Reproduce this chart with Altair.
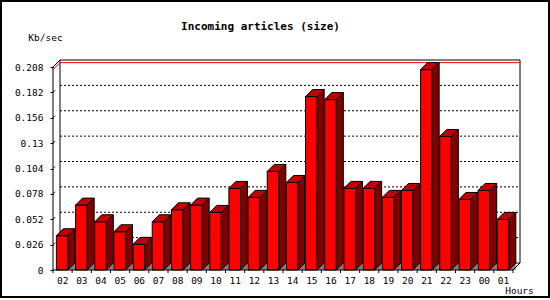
import altair as alt
import pandas as pd

# ---------------- data ----------------
hours = ["02", "03", "04", "05", "06", "07", "08", "09", "10", "11", "12", "13",
         "14", "15", "16", "17", "18", "19", "20", "21", "22", "23", "00", "01"]
kbps = [0.0351, 0.0665, 0.0494, 0.0392, 0.0263, 0.0494, 0.0617, 0.0665,
        0.0590, 0.0836, 0.0744, 0.1010, 0.0897, 0.1777, 0.1746, 0.0836,
        0.0836, 0.0744, 0.0815, 0.2053, 0.1368, 0.0723, 0.0815, 0.0518]
y_ticks = [0, 0.026, 0.052, 0.078, 0.104, 0.13, 0.156, 0.182, 0.208]
y_top = 0.208
title_text = "Incoming articles (size)"

# ---------------- geometry (3D box) ----------------
W, H = 467, 210
DEPTH = 7                      # px of 3D depth
n = len(hours)
band = (W - DEPTH) / n         # px per hour slot
ppu = (H - DEPTH) / y_top      # px per Kb/sec
dxi = DEPTH / band             # depth in x data units
dyv = DEPTH / ppu              # depth in y data units
XMAX = W / band
YMAX = H / ppu
a = 3.4 / band                 # gap before front face
w = 11.6 / band                # front face width
vmax = max(kbps)

FONT = "DejaVu Sans Mono"

xs = alt.Scale(domain=[0, XMAX], nice=False, zero=False)
ys = alt.Scale(domain=[0, YMAX], nice=False, zero=False)

hours_js = "[" + ",".join("'" + h + "'" for h in hours) + "]"
xaxis = alt.Axis(values=[i + a + w / 2 for i in range(n)],
                 labelExpr=hours_js + "[floor(datum.value)]",
                 ticks=False, tickSize=0, domain=False, grid=False,
                 labelPadding=10, labelBaseline="middle", labelAngle=0,
                 labelFlush=False, labelOverlap=False,
                 labelFont=FONT, labelFontSize=9.5, labelColor="black",
                 title="Hours", titleFont=FONT, titleFontSize=9.5,
                 titleFontWeight="normal", titleColor="black",
                 titleX=466, titleY=20, titleAlign="center",
                 titleBaseline="middle")
yaxis = alt.Axis(values=y_ticks, format=".3~g", tickSize=3, tickColor="black",
                 domain=False, grid=False, labelPadding=7,
                 labelFlush=False, labelOverlap=False,
                 labelFont=FONT, labelFontSize=9.5, labelColor="black",
                 title="Kb/sec", titleFont=FONT, titleFontSize=9.5,
                 titleFontWeight="normal", titleColor="black", titleAngle=0,
                 titleX=-8, titleY=-23, titleAlign="center",
                 titleBaseline="middle")


def X(f):
    return alt.X(f, type="quantitative", scale=xs, axis=xaxis)


def Y(f):
    return alt.Y(f, type="quantitative", scale=ys, axis=yaxis)


# ---------------- tables ----------------
wall = pd.DataFrame([{"x0": dxi, "x1": XMAX, "y0": dyv, "y1": YMAX}])

grid = pd.DataFrame([{"x0": dxi, "x1": XMAX, "y0": v + dyv, "y1": v + dyv}
                     for v in y_ticks[1:-1]])

red = pd.DataFrame([
    {"x0": dxi, "x1": XMAX, "y0": vmax + dyv, "y1": vmax + dyv},
    {"x0": 0, "x1": dxi, "y0": vmax, "y1": vmax + dyv},
])

front = pd.DataFrame([{"hour": h, "x0": i + a, "x1": i + a + w, "y0": 0, "y1": v}
                      for i, (h, v) in enumerate(zip(hours, kbps))])

side_rows, top_rows, floor_rows = [], [], []
for i, (h, v) in enumerate(zip(hours, kbps)):
    xr = i + a + w
    side_rows.append({"hour": h, "x": xr, "yt": v, "yb": 0})
    side_rows.append({"hour": h, "x": xr + dxi, "yt": v + dyv, "yb": dyv})
    top_rows.append({"hour": h, "y": v, "xl": i + a, "xr": xr})
    top_rows.append({"hour": h, "y": v + dyv, "xl": i + a + dxi, "xr": xr + dxi})
    floor_rows.append({"hour": h, "x": xr, "yt": 0, "yb": 0})
    floor_rows.append({"hour": h, "x": xr + dxi, "yt": dyv, "yb": 0})
side = pd.DataFrame(side_rows)
top = pd.DataFrame(top_rows)
floor = pd.DataFrame(floor_rows)

segs = [
    {"x0": 0, "x1": 0, "y0": 0, "y1": y_top},                 # front y axis
    {"x0": 0, "x1": n, "y0": 0, "y1": 0},                     # front x axis
    {"x0": 0, "x1": dxi, "y0": y_top, "y1": y_top + dyv},     # top-left edge
    {"x0": n, "x1": XMAX, "y0": 0, "y1": dyv},                # bottom-right edge
]
tick_len = 3 / ppu
for i in range(n + 1):
    segs.append({"x0": i, "x1": i, "y0": 0, "y1": -tick_len})
for v in y_ticks[1:-1]:
    segs.append({"x0": 0, "x1": dxi * 0.3, "y0": v, "y1": v + dyv * 0.3})
segs = pd.DataFrame(segs)

border = pd.DataFrame([{"k": 1}])
title_df = pd.DataFrame([{"t": title_text}])

# ---------------- layers ----------------
wall_l = alt.Chart(wall).mark_rect(fill="white", stroke="black", strokeWidth=1).encode(
    x=X("x0"), x2="x1", y=Y("y0"), y2="y1")

grid_l = alt.Chart(grid).mark_rule(color="black", strokeWidth=1, strokeDash=[2, 2]).encode(
    x=X("x0"), x2="x1", y=Y("y0"), y2="y1")

red_l = alt.Chart(red).mark_rule(color="#ff0000", strokeWidth=1).encode(
    x=X("x0"), x2="x1", y=Y("y0"), y2="y1")

floor_l = alt.Chart(floor).mark_area(color="#808080", orient="vertical").encode(
    x=X("x"), y=Y("yt"), y2="yb", detail="hour:N")

front_l = alt.Chart(front).mark_rect(fill="#ff0000", stroke="black", strokeWidth=1).encode(
    x=X("x0"), x2="x1", y=Y("y0"), y2="y1")

side_l = alt.Chart(side).mark_area(fill="#800000", stroke="black", strokeWidth=1,
                                   orient="vertical").encode(
    x=X("x"), y=Y("yt"), y2="yb", detail="hour:N")

top_l = alt.Chart(top).mark_area(fill="#c00000", stroke="black", strokeWidth=1,
                                 orient="horizontal").encode(
    y=Y("y"), x=X("xl"), x2="xr", detail="hour:N")

segs_l = alt.Chart(segs).mark_rule(color="black", strokeWidth=1).encode(
    x=X("x0"), x2="x1", y=Y("y0"), y2="y1")

title_l = alt.Chart(title_df).mark_text(font=FONT, fontSize=11, fontWeight="bold",
                                        color="black", align="center",
                                        baseline="middle").encode(
    text="t:N", x=alt.value(207.5), y=alt.value(-33))

border_l = alt.Chart(border).mark_rect(fillOpacity=0, stroke="black", strokeWidth=2).encode(
    x=alt.value(-52), x2=alt.value(496), y=alt.value(-59), y2=alt.value(237))

chart = alt.layer(
    wall_l, grid_l, red_l, floor_l, front_l, side_l, top_l, segs_l, title_l, border_l
).properties(
    width=W, height=H,
    padding=0,
    background="white",
    autosize=alt.AutoSizeParams(type="pad"),
).configure_view(strokeWidth=0)

chart.save("out.html", embed_options={"renderer": "svg", "actions": False})
